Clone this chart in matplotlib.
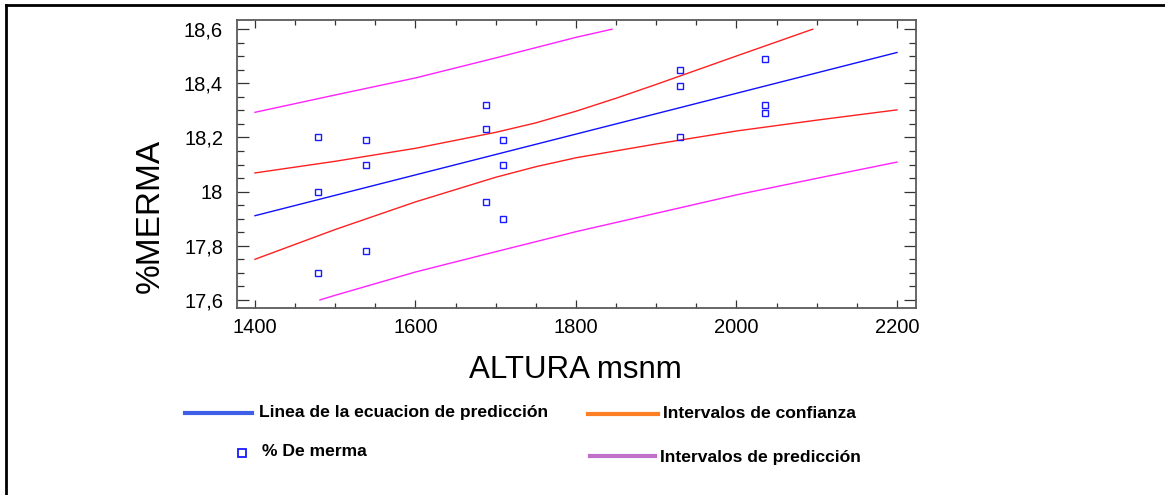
import matplotlib
matplotlib.use("Agg")
import matplotlib.pyplot as plt
from matplotlib.lines import Line2D
from matplotlib.ticker import MultipleLocator, FixedLocator, FixedFormatter

plt.rcParams['font.family'] = ['Liberation Sans', 'DejaVu Sans']

# observed points: altitude (msnm) and % merma
altura = [1479, 1479, 1479, 1538, 1538, 1538, 1688, 1688, 1688,
          1709, 1709, 1709, 1929, 1929, 1929, 2035, 2035, 2035]
merma = [18.20, 18.00, 17.70, 18.19, 18.10, 17.78, 18.32, 18.23, 17.96,
         18.19, 18.10, 17.90, 18.45, 18.39, 18.20, 18.49, 18.32, 18.29]

# fitted line (read at the ends)
fit_x = [1400, 2200]
fit_y = [17.911, 18.514]

# confidence band
conf_up_x = [1400, 1500, 1600, 1700, 1750, 1800, 1850, 1900, 2000, 2095]
conf_up_y = [18.069, 18.112, 18.160, 18.219, 18.254, 18.297, 18.345, 18.396, 18.501, 18.60]
conf_low_x = [1400, 1500, 1600, 1700, 1750, 1800, 1900, 2000, 2100, 2200]
conf_low_y = [17.750, 17.860, 17.962, 18.053, 18.092, 18.125, 18.176, 18.224, 18.264, 18.302]

# prediction band
pred_up_x = [1400, 1500, 1600, 1700, 1800, 1845]
pred_up_y = [18.293, 18.357, 18.420, 18.494, 18.570, 18.60]
pred_low_x = [1481, 1500, 1600, 1700, 1800, 1900, 2000, 2100, 2200]
pred_low_y = [17.60, 17.617, 17.703, 17.778, 17.852, 17.920, 17.988, 18.049, 18.109]

y_ticks = [17.6, 17.8, 18.0, 18.2, 18.4, 18.6]
y_tick_labels = ['17,6', '17,8', '18', '18,2', '18,4', '18,6']

W, H = 1165, 495
fig = plt.figure(figsize=(W / 100, H / 100), dpi=100)


def fx(px):
    return px / W


def fy(py):
    return 1 - py / H


# axes box in pixels: left 237, right 916, top 20, bottom 308
ax = fig.add_axes([fx(237), fy(308), fx(916) - fx(237), fy(20) - fy(308)])

ax.plot(pred_up_x, pred_up_y, color='#ff22ff', lw=1.0)
ax.plot(pred_low_x, pred_low_y, color='#ff22ff', lw=1.0)
ax.plot(conf_up_x, conf_up_y, color='#ff2020', lw=1.0)
ax.plot(conf_low_x, conf_low_y, color='#ff2020', lw=1.0)
ax.plot(fit_x, fit_y, color='#1010ff', lw=1.0)
ax.plot(altura, merma, ls='none', marker='s', ms=4.8, mfc='none',
        mec='#1a1aff', mew=1.0)

ax.set_xlim(1377.6, 2223.7)
ax.set_ylim(17.570, 18.634)

ax.xaxis.set_major_locator(MultipleLocator(200))
ax.xaxis.set_minor_locator(MultipleLocator(50))
ax.yaxis.set_major_locator(FixedLocator(y_ticks))
ax.yaxis.set_major_formatter(FixedFormatter(y_tick_labels))
ax.yaxis.set_minor_locator(MultipleLocator(0.05))

ax.tick_params(which='both', direction='in', top=True, right=True,
               color='#333333', width=0.9, labelsize=14.5)
ax.tick_params(axis='x', which='major', length=5.5, pad=7)
ax.tick_params(axis='x', which='minor', length=3.5)
ax.tick_params(axis='y', which='major', length=8.6, pad=10)
ax.tick_params(axis='y', which='minor', length=4.8)

for sp in ax.spines.values():
    sp.set_color('#5a5a5a')
    sp.set_linewidth(1.3)

fig.text(fx(150), fy(216), '%MERMA', rotation=90, fontsize=24,
         ha='center', va='center')
fig.text(fx(575), fy(370), 'ALTURA msnm', fontsize=22.5,
         ha='center', va='center')

# legend drawn by hand below the plot
leg_font = dict(fontsize=12.6, fontweight='bold', va='center', ha='left')
fig.add_artist(Line2D([fx(185), fx(252)], [fy(412.5), fy(412.5)],
                      color='#3f5fe8', lw=3))
fig.text(fx(259), fy(412), 'Linea de la ecuacion de predicción', **leg_font)
fig.add_artist(Line2D([fx(588), fx(658)], [fy(413.5), fy(413.5)],
                      color='#ff7f27', lw=3))
fig.text(fx(663), fy(413.5), 'Intervalos de confianza', **leg_font)
fig.add_artist(Line2D([fx(242)], [fy(452.5)], ls='none', marker='s', ms=6,
                      mfc='none', mec='#1a1aff', mew=1.3))
fig.text(fx(262), fy(452), '% De merma', **leg_font)
fig.add_artist(Line2D([fx(590), fx(655)], [fy(456), fy(456)],
                      color='#c070c8', lw=3))
fig.text(fx(660), fy(457.5), 'Intervalos de predicción', **leg_font)

# outer frame: top and left edges
fig.add_artist(Line2D([fx(6), fx(1165)], [fy(5), fy(5)], color='black', lw=2))
fig.add_artist(Line2D([fx(6), fx(6)], [fy(5), fy(495)], color='black', lw=2))

fig.savefig('out.png', dpi=100)
